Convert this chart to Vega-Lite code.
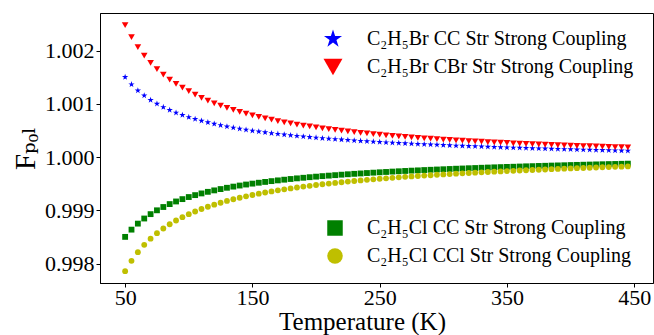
{
"$schema": "https://vega.github.io/schema/vega-lite/v6.json",
"width": 553, "height": 270,
"autosize": {"type": "none"},
"padding": {"left": 100, "top": 13, "right": 1, "bottom": 52},
"background": "white",
"config": {
  "view": {"stroke": "#000000", "strokeWidth": 1},
  "axis": {"grid": false, "domainColor": "#000000", "tickColor": "#000000", "labelColor": "#000000", "titleColor": "#000000", "labelFont": "Liberation Serif", "titleFont": "Liberation Serif, DejaVu Serif, DejaVu Sans", "labelFontSize": 22, "titleFontSize": 28, "titleFontWeight": "normal", "tickSize": 4, "domainWidth": 1},
  "legend": {"labelFont": "Liberation Serif, DejaVu Serif", "labelFontSize": 20, "labelColor": "#000000", "labelLimit": 400}
},
"datasets": {"pts": [
{"T":50,"s":"a","F":1.001504},{"T":55,"s":"a","F":1.001367},{"T":60,"s":"a","F":1.001253},{"T":65,"s":"a","F":1.001157},{"T":70,"s":"a","F":1.001074},{"T":75,"s":"a","F":1.001003},{"T":80,"s":"a","F":1.00094},{"T":85,"s":"a","F":1.000885},{"T":90,"s":"a","F":1.000836},{"T":95,"s":"a","F":1.000792},
{"T":100,"s":"a","F":1.000752},{"T":105,"s":"a","F":1.000716},{"T":110,"s":"a","F":1.000683},{"T":115,"s":"a","F":1.000654},{"T":120,"s":"a","F":1.000626},{"T":125,"s":"a","F":1.000601},{"T":130,"s":"a","F":1.000577},{"T":135,"s":"a","F":1.000555},{"T":140,"s":"a","F":1.000535},{"T":145,"s":"a","F":1.000516},
{"T":150,"s":"a","F":1.000498},{"T":155,"s":"a","F":1.000482},{"T":160,"s":"a","F":1.000466},{"T":165,"s":"a","F":1.000451},{"T":170,"s":"a","F":1.000437},{"T":175,"s":"a","F":1.000424},{"T":180,"s":"a","F":1.000411},{"T":185,"s":"a","F":1.0004},{"T":190,"s":"a","F":1.000388},{"T":195,"s":"a","F":1.000377},
{"T":200,"s":"a","F":1.000367},{"T":205,"s":"a","F":1.000357},{"T":210,"s":"a","F":1.000348},{"T":215,"s":"a","F":1.000339},{"T":220,"s":"a","F":1.00033},{"T":225,"s":"a","F":1.000322},{"T":230,"s":"a","F":1.000314},{"T":235,"s":"a","F":1.000306},{"T":240,"s":"a","F":1.000299},{"T":245,"s":"a","F":1.000292},
{"T":250,"s":"a","F":1.000285},{"T":255,"s":"a","F":1.000278},{"T":260,"s":"a","F":1.000272},{"T":265,"s":"a","F":1.000266},{"T":270,"s":"a","F":1.00026},{"T":275,"s":"a","F":1.000254},{"T":280,"s":"a","F":1.000248},{"T":285,"s":"a","F":1.000243},{"T":290,"s":"a","F":1.000237},{"T":295,"s":"a","F":1.000232},
{"T":300,"s":"a","F":1.000227},{"T":305,"s":"a","F":1.000222},{"T":310,"s":"a","F":1.000217},{"T":315,"s":"a","F":1.000213},{"T":320,"s":"a","F":1.000208},{"T":325,"s":"a","F":1.000204},{"T":330,"s":"a","F":1.0002},{"T":335,"s":"a","F":1.000195},{"T":340,"s":"a","F":1.000191},{"T":345,"s":"a","F":1.000187},
{"T":350,"s":"a","F":1.000183},{"T":355,"s":"a","F":1.000179},{"T":360,"s":"a","F":1.000176},{"T":365,"s":"a","F":1.000172},{"T":370,"s":"a","F":1.000168},{"T":375,"s":"a","F":1.000165},{"T":380,"s":"a","F":1.000161},{"T":385,"s":"a","F":1.000158},{"T":390,"s":"a","F":1.000155},{"T":395,"s":"a","F":1.000151},
{"T":400,"s":"a","F":1.000148},{"T":405,"s":"a","F":1.000145},{"T":410,"s":"a","F":1.000142},{"T":415,"s":"a","F":1.000139},{"T":420,"s":"a","F":1.000136},{"T":425,"s":"a","F":1.000133},{"T":430,"s":"a","F":1.00013},{"T":435,"s":"a","F":1.000127},{"T":440,"s":"a","F":1.000124},{"T":445,"s":"a","F":1.000122},

{"T":50,"s":"b","F":1.00248},{"T":55,"s":"b","F":1.002255},{"T":60,"s":"b","F":1.002067},{"T":65,"s":"b","F":1.001908},{"T":70,"s":"b","F":1.001771},{"T":75,"s":"b","F":1.001653},{"T":80,"s":"b","F":1.00155},{"T":85,"s":"b","F":1.001459},{"T":90,"s":"b","F":1.001378},{"T":95,"s":"b","F":1.001305},
{"T":100,"s":"b","F":1.00124},{"T":105,"s":"b","F":1.001175},{"T":110,"s":"b","F":1.001116},{"T":115,"s":"b","F":1.001062},{"T":120,"s":"b","F":1.001013},{"T":125,"s":"b","F":1.000968},{"T":130,"s":"b","F":1.000926},{"T":135,"s":"b","F":1.000887},{"T":140,"s":"b","F":1.000851},{"T":145,"s":"b","F":1.000817},
{"T":150,"s":"b","F":1.000786},{"T":155,"s":"b","F":1.000757},{"T":160,"s":"b","F":1.000729},{"T":165,"s":"b","F":1.000704},{"T":170,"s":"b","F":1.000679},{"T":175,"s":"b","F":1.000656},{"T":180,"s":"b","F":1.000635},{"T":185,"s":"b","F":1.000614},{"T":190,"s":"b","F":1.000595},{"T":195,"s":"b","F":1.000577},
{"T":200,"s":"b","F":1.000559},{"T":205,"s":"b","F":1.000542},{"T":210,"s":"b","F":1.000527},{"T":215,"s":"b","F":1.000512},{"T":220,"s":"b","F":1.000497},{"T":225,"s":"b","F":1.000483},{"T":230,"s":"b","F":1.00047},{"T":235,"s":"b","F":1.000458},{"T":240,"s":"b","F":1.000446},{"T":245,"s":"b","F":1.000434},
{"T":250,"s":"b","F":1.000423},{"T":255,"s":"b","F":1.000412},{"T":260,"s":"b","F":1.000402},{"T":265,"s":"b","F":1.000392},{"T":270,"s":"b","F":1.000382},{"T":275,"s":"b","F":1.000373},{"T":280,"s":"b","F":1.000364},{"T":285,"s":"b","F":1.000356},{"T":290,"s":"b","F":1.000348},{"T":295,"s":"b","F":1.00034},
{"T":300,"s":"b","F":1.000332},{"T":305,"s":"b","F":1.000325},{"T":310,"s":"b","F":1.000317},{"T":315,"s":"b","F":1.00031},{"T":320,"s":"b","F":1.000304},{"T":325,"s":"b","F":1.000297},{"T":330,"s":"b","F":1.000291},{"T":335,"s":"b","F":1.000285},{"T":340,"s":"b","F":1.000279},{"T":345,"s":"b","F":1.000273},
{"T":350,"s":"b","F":1.000267},{"T":355,"s":"b","F":1.000262},{"T":360,"s":"b","F":1.000256},{"T":365,"s":"b","F":1.000251},{"T":370,"s":"b","F":1.000246},{"T":375,"s":"b","F":1.000241},{"T":380,"s":"b","F":1.000236},{"T":385,"s":"b","F":1.000232},{"T":390,"s":"b","F":1.000227},{"T":395,"s":"b","F":1.000223},
{"T":400,"s":"b","F":1.000219},{"T":405,"s":"b","F":1.000214},{"T":410,"s":"b","F":1.00021},{"T":415,"s":"b","F":1.000206},{"T":420,"s":"b","F":1.000202},{"T":425,"s":"b","F":1.000199},{"T":430,"s":"b","F":1.000195},{"T":435,"s":"b","F":1.000191},{"T":440,"s":"b","F":1.000188},{"T":445,"s":"b","F":1.000184},

{"T":50,"s":"c","F":0.998504},{"T":55,"s":"c","F":0.99864},{"T":60,"s":"c","F":0.998753},{"T":65,"s":"c","F":0.998849},{"T":70,"s":"c","F":0.998931},{"T":75,"s":"c","F":0.999003},{"T":80,"s":"c","F":0.999065},{"T":85,"s":"c","F":0.99912},{"T":90,"s":"c","F":0.999169},{"T":95,"s":"c","F":0.999213},
{"T":100,"s":"c","F":0.999252},{"T":105,"s":"c","F":0.999288},{"T":110,"s":"c","F":0.99932},{"T":115,"s":"c","F":0.99935},{"T":120,"s":"c","F":0.999377},{"T":125,"s":"c","F":0.999402},{"T":130,"s":"c","F":0.999426},{"T":135,"s":"c","F":0.999448},{"T":140,"s":"c","F":0.999468},{"T":145,"s":"c","F":0.999487},
{"T":150,"s":"c","F":0.999504},{"T":155,"s":"c","F":0.999521},{"T":160,"s":"c","F":0.999536},{"T":165,"s":"c","F":0.999551},{"T":170,"s":"c","F":0.999565},{"T":175,"s":"c","F":0.999578},{"T":180,"s":"c","F":0.999591},{"T":185,"s":"c","F":0.999603},{"T":190,"s":"c","F":0.999614},{"T":195,"s":"c","F":0.999625},
{"T":200,"s":"c","F":0.999635},{"T":205,"s":"c","F":0.999645},{"T":210,"s":"c","F":0.999654},{"T":215,"s":"c","F":0.999663},{"T":220,"s":"c","F":0.999672},{"T":225,"s":"c","F":0.99968},{"T":230,"s":"c","F":0.999688},{"T":235,"s":"c","F":0.999695},{"T":240,"s":"c","F":0.999703},{"T":245,"s":"c","F":0.99971},
{"T":250,"s":"c","F":0.999717},{"T":255,"s":"c","F":0.999723},{"T":260,"s":"c","F":0.99973},{"T":265,"s":"c","F":0.999736},{"T":270,"s":"c","F":0.999742},{"T":275,"s":"c","F":0.999748},{"T":280,"s":"c","F":0.999753},{"T":285,"s":"c","F":0.999759},{"T":290,"s":"c","F":0.999764},{"T":295,"s":"c","F":0.999769},
{"T":300,"s":"c","F":0.999774},{"T":305,"s":"c","F":0.999779},{"T":310,"s":"c","F":0.999784},{"T":315,"s":"c","F":0.999788},{"T":320,"s":"c","F":0.999793},{"T":325,"s":"c","F":0.999797},{"T":330,"s":"c","F":0.999802},{"T":335,"s":"c","F":0.999806},{"T":340,"s":"c","F":0.99981},{"T":345,"s":"c","F":0.999814},
{"T":350,"s":"c","F":0.999818},{"T":355,"s":"c","F":0.999821},{"T":360,"s":"c","F":0.999825},{"T":365,"s":"c","F":0.999829},{"T":370,"s":"c","F":0.999832},{"T":375,"s":"c","F":0.999836},{"T":380,"s":"c","F":0.999839},{"T":385,"s":"c","F":0.999843},{"T":390,"s":"c","F":0.999846},{"T":395,"s":"c","F":0.999849},
{"T":400,"s":"c","F":0.999853},{"T":405,"s":"c","F":0.999856},{"T":410,"s":"c","F":0.999859},{"T":415,"s":"c","F":0.999862},{"T":420,"s":"c","F":0.999865},{"T":425,"s":"c","F":0.999868},{"T":430,"s":"c","F":0.999871},{"T":435,"s":"c","F":0.999873},{"T":440,"s":"c","F":0.999876},{"T":445,"s":"c","F":0.999879},

{"T":50,"s":"d","F":0.99786},{"T":55,"s":"d","F":0.998055},{"T":60,"s":"d","F":0.998217},{"T":65,"s":"d","F":0.998354},{"T":70,"s":"d","F":0.998471},{"T":75,"s":"d","F":0.998573},{"T":80,"s":"d","F":0.998662},{"T":85,"s":"d","F":0.998741},{"T":90,"s":"d","F":0.998811},{"T":95,"s":"d","F":0.998874},
{"T":100,"s":"d","F":0.99893},{"T":105,"s":"d","F":0.998981},{"T":110,"s":"d","F":0.999028},{"T":115,"s":"d","F":0.99907},{"T":120,"s":"d","F":0.999109},{"T":125,"s":"d","F":0.999145},{"T":130,"s":"d","F":0.999179},{"T":135,"s":"d","F":0.99921},{"T":140,"s":"d","F":0.999239},{"T":145,"s":"d","F":0.999266},
{"T":150,"s":"d","F":0.999291},{"T":155,"s":"d","F":0.999315},{"T":160,"s":"d","F":0.999337},{"T":165,"s":"d","F":0.999358},{"T":170,"s":"d","F":0.999378},{"T":175,"s":"d","F":0.999397},{"T":180,"s":"d","F":0.999414},{"T":185,"s":"d","F":0.999431},{"T":190,"s":"d","F":0.999448},{"T":195,"s":"d","F":0.999463},
{"T":200,"s":"d","F":0.999478},{"T":205,"s":"d","F":0.999492},{"T":210,"s":"d","F":0.999505},{"T":215,"s":"d","F":0.999518},{"T":220,"s":"d","F":0.99953},{"T":225,"s":"d","F":0.999542},{"T":230,"s":"d","F":0.999553},{"T":235,"s":"d","F":0.999564},{"T":240,"s":"d","F":0.999575},{"T":245,"s":"d","F":0.999585},
{"T":250,"s":"d","F":0.999595},{"T":255,"s":"d","F":0.999604},{"T":260,"s":"d","F":0.999613},{"T":265,"s":"d","F":0.999622},{"T":270,"s":"d","F":0.999631},{"T":275,"s":"d","F":0.999639},{"T":280,"s":"d","F":0.999647},{"T":285,"s":"d","F":0.999655},{"T":290,"s":"d","F":0.999662},{"T":295,"s":"d","F":0.99967},
{"T":300,"s":"d","F":0.999677},{"T":305,"s":"d","F":0.999684},{"T":310,"s":"d","F":0.999691},{"T":315,"s":"d","F":0.999697},{"T":320,"s":"d","F":0.999704},{"T":325,"s":"d","F":0.99971},{"T":330,"s":"d","F":0.999716},{"T":335,"s":"d","F":0.999722},{"T":340,"s":"d","F":0.999728},{"T":345,"s":"d","F":0.999734},
{"T":350,"s":"d","F":0.999739},{"T":355,"s":"d","F":0.999745},{"T":360,"s":"d","F":0.99975},{"T":365,"s":"d","F":0.999755},{"T":370,"s":"d","F":0.99976},{"T":375,"s":"d","F":0.999765},{"T":380,"s":"d","F":0.99977},{"T":385,"s":"d","F":0.999775},{"T":390,"s":"d","F":0.99978},{"T":395,"s":"d","F":0.999785},
{"T":400,"s":"d","F":0.999789},{"T":405,"s":"d","F":0.999794},{"T":410,"s":"d","F":0.999798},{"T":415,"s":"d","F":0.999802},{"T":420,"s":"d","F":0.999807},{"T":425,"s":"d","F":0.999811},{"T":430,"s":"d","F":0.999815},{"T":435,"s":"d","F":0.999819},{"T":440,"s":"d","F":0.999823},{"T":445,"s":"d","F":0.999827}
]},
"data": {"name": "pts"},
"encoding": {
  "x": {"field": "T", "type": "quantitative", "scale": {"domain": [30.25, 464.75], "nice": false, "zero": false},
        "axis": {"values": [50, 150, 250, 350, 450], "title": "Temperature (K)", "labelFont": "Liberation Serif", "labelFontSize": 22, "labelPadding": 0,
                 "titleFont": "Liberation Serif", "titleFontSize": 25, "titleX": 262, "titleY": 46, "titleAlign": "center", "titleBaseline": "alphabetic", "titleAnchor": null}},
  "y": {"field": "F", "type": "quantitative", "scale": {"domain": [0.997638, 1.002708], "nice": false, "zero": false},
        "axis": {"values": [0.998, 0.999, 1.0, 1.001, 1.002], "format": ".3f", "title": "Fₚₒₗ", "labelFont": "Liberation Serif", "labelFontSize": 22, "labelPadding": 2, "titlePadding": 4, "titleFontSize": 29}}
},
"layer": [
  {
    "transform": [{"filter": {"field": "s", "oneOf": ["a", "b"]}}],
    "mark": {"type": "point", "filled": true, "opacity": 1, "size": 44, "strokeWidth": 0},
    "encoding": {
      "color": {"field": "s", "type": "nominal", "scale": {"domain": ["a", "b"], "range": ["#0000ff", "#ff0000"]},
        "legend": {"title": null, "orient": "none", "legendX": 223, "legendY": 16, "symbolSize": 360, "symbolStrokeWidth": 0, "rowPadding": 8, "labelOffset": 24, "padding": 0,
          "labelExpr": "datum.label == 'a' ? 'C₂H₅Br CC Str Strong Coupling' : 'C₂H₅Br CBr Str Strong Coupling'"}},
      "shape": {"field": "s", "type": "nominal", "scale": {"domain": ["a", "b"], "range": ["M0,-1L0.225,-0.309L0.951,-0.309L0.363,0.118L0.588,0.809L0,0.382L-0.588,0.809L-0.363,0.118L-0.951,-0.309L-0.225,-0.309Z", "triangle-down"]},
        "legend": {"title": null, "orient": "none", "legendX": 223, "legendY": 16, "symbolSize": 360, "symbolStrokeWidth": 0, "rowPadding": 8, "labelOffset": 24, "padding": 0,
          "labelExpr": "datum.label == 'a' ? 'C₂H₅Br CC Str Strong Coupling' : 'C₂H₅Br CBr Str Strong Coupling'"}}
    }
  },
  {
    "transform": [{"filter": {"field": "s", "oneOf": ["c", "d"]}}],
    "mark": {"type": "point", "filled": true, "opacity": 1, "size": 34, "strokeWidth": 0},
    "encoding": {
      "color": {"field": "s", "type": "nominal", "scale": {"domain": ["c", "d"], "range": ["#008000", "#bfbf00"]},
        "legend": {"title": null, "orient": "none", "legendX": 225, "legendY": 205, "symbolSize": 240, "symbolStrokeWidth": 0, "rowPadding": 8, "labelOffset": 22, "padding": 0,
          "labelExpr": "datum.label == 'c' ? 'C₂H₅Cl CC Str Strong Coupling' : 'C₂H₅Cl CCl Str Strong Coupling'"}},
      "shape": {"field": "s", "type": "nominal", "scale": {"domain": ["c", "d"], "range": ["square", "circle"]},
        "legend": {"title": null, "orient": "none", "legendX": 225, "legendY": 205, "symbolSize": 240, "symbolStrokeWidth": 0, "rowPadding": 8, "labelOffset": 22, "padding": 0,
          "labelExpr": "datum.label == 'c' ? 'C₂H₅Cl CC Str Strong Coupling' : 'C₂H₅Cl CCl Str Strong Coupling'"}}
    }
  }
],
"resolve": {"scale": {"color": "independent", "shape": "independent"}, "legend": {"color": "independent", "shape": "independent"}}
}
